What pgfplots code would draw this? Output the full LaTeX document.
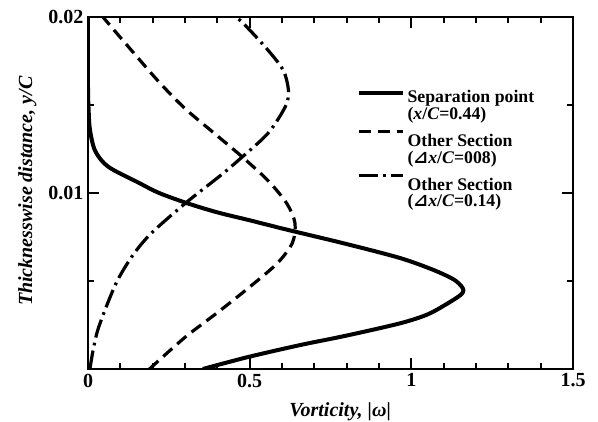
\documentclass[border=0pt]{standalone}
\usepackage{fontspec}
\setmainfont{Liberation Serif}
\newfontfamily\dejavu{DejaVu Sans}
\usepackage{pgfplots}
\pgfplotsset{compat=1.18}
\newcommand{\gap}{\rule{0pt}{17.25pt}}
\begin{document}
\begin{tikzpicture}
\begin{axis}[
  scale only axis,
  width=363.75pt, height=264pt,
  xmin=0, xmax=1.5, ymin=0, ymax=0.02,
  axis line style={line width=2pt},
  xtick={0,0.5,1,1.5},
  xticklabels={0,0.5,1,1.5},
  minor x tick num=4,
  ytick={0,0.01,0.02},
  yticklabels={,0.01,0.02},
  minor y tick num=1,
  tick align=inside,
  tick pos=both,
  major tick length=8pt,
  minor tick length=4.5pt,
  every tick/.style={line width=1.5pt, black},
  /pgf/number format/assume math mode=true,
  ticklabel style={font=\fontsize{15}{17}\selectfont\bfseries},
  scaled y ticks=false,
  xlabel={\fontsize{15}{17}\selectfont\bfseries\itshape Vorticity, |ω|},
  ylabel={\fontsize{15}{17}\selectfont\bfseries\itshape Thicknesswise distance, y/C},
  xlabel style={at={(axis description cs:0.52,-0.122)}, anchor=center},
  ylabel style={at={(axis description cs:-0.125,0.505)}, anchor=center},
  legend style={at={(axis cs:0.832,0.01585)}, anchor=north west, draw=none, fill=none,
    font=\fontsize{13.3}{12}\selectfont\bfseries, row sep=2.2pt, inner sep=0pt,
    nodes={inner sep=0pt, text depth=1pt},
    /tikz/every odd column/.append style={column sep=2pt}},
  legend cell align=left,
  legend image code/.code={\draw[#1] (0cm,0.3em) -- (1.15cm,0.3em);},
]
\addplot[black, line width=3pt, smooth, tension=0.5] coordinates {
(0.000,0.0200) (0.000,0.0160) (0.002,0.0147) (0.006,0.0136) (0.022,0.0124)
(0.062,0.0115) (0.155,0.0106) (0.220,0.0100) (0.310,0.0094) (0.400,0.0089)
(0.500,0.00845) (0.619,0.0079) (0.800,0.0071) (0.966,0.0063) (1.068,0.00563)
(1.130,0.0051) (1.155,0.0047) (1.161,0.00445) (1.152,0.0042) (1.110,0.0037)
(1.050,0.0031) (0.966,0.0026) (0.800,0.0019) (0.656,0.00136) (0.495,0.00068)
(0.355,0.0000)
};
\addlegendentry{Separation point}
\addlegendimage{empty legend}
\addlegendentry{(\textit{x}/\textit{C}=0.44)}
\addplot[black, line width=2.4pt, smooth, tension=0.5, dash pattern=on 9pt off 5pt] coordinates {
(0.190,0.0000) (0.300,0.0018) (0.400,0.0032) (0.500,0.00466) (0.585,0.0060)
(0.632,0.00716) (0.640,0.0083) (0.615,0.0094) (0.557,0.0107) (0.474,0.0121)
(0.390,0.0134) (0.300,0.0148) (0.220,0.0163) (0.130,0.0182) (0.046,0.0200)
};
\addlegendentry{\gap Other Section}
\addlegendimage{empty legend}
\addlegendentry{({\dejavu ⊿}\textit{x}/\textit{C}=008)}
\addplot[black, line width=2.4pt, smooth, tension=0.5, dash pattern=on 14pt off 4pt on 2pt off 4pt] coordinates {
(0.006,0.0000) (0.015,0.0010) (0.030,0.0022) (0.060,0.0037) (0.093,0.0051)
(0.140,0.0065) (0.195,0.0077) (0.300,0.0094) (0.410,0.0110) (0.474,0.0120)
(0.557,0.0134) (0.610,0.0149) (0.620,0.0158) (0.603,0.0170) (0.548,0.0183)
(0.477,0.0197) (0.455,0.0200)
};
\addlegendentry{\gap Other Section}
\addlegendimage{empty legend}
\addlegendentry{({\dejavu ⊿}\textit{x}/\textit{C}=0.14)}
\end{axis}
\pgfresetboundingbox
\path[use as bounding box] ([shift={(-66pt,-39pt)}]current axis.south west) rectangle ([shift={(18.75pt,12.75pt)}]current axis.north east);
\end{tikzpicture}
\end{document}
